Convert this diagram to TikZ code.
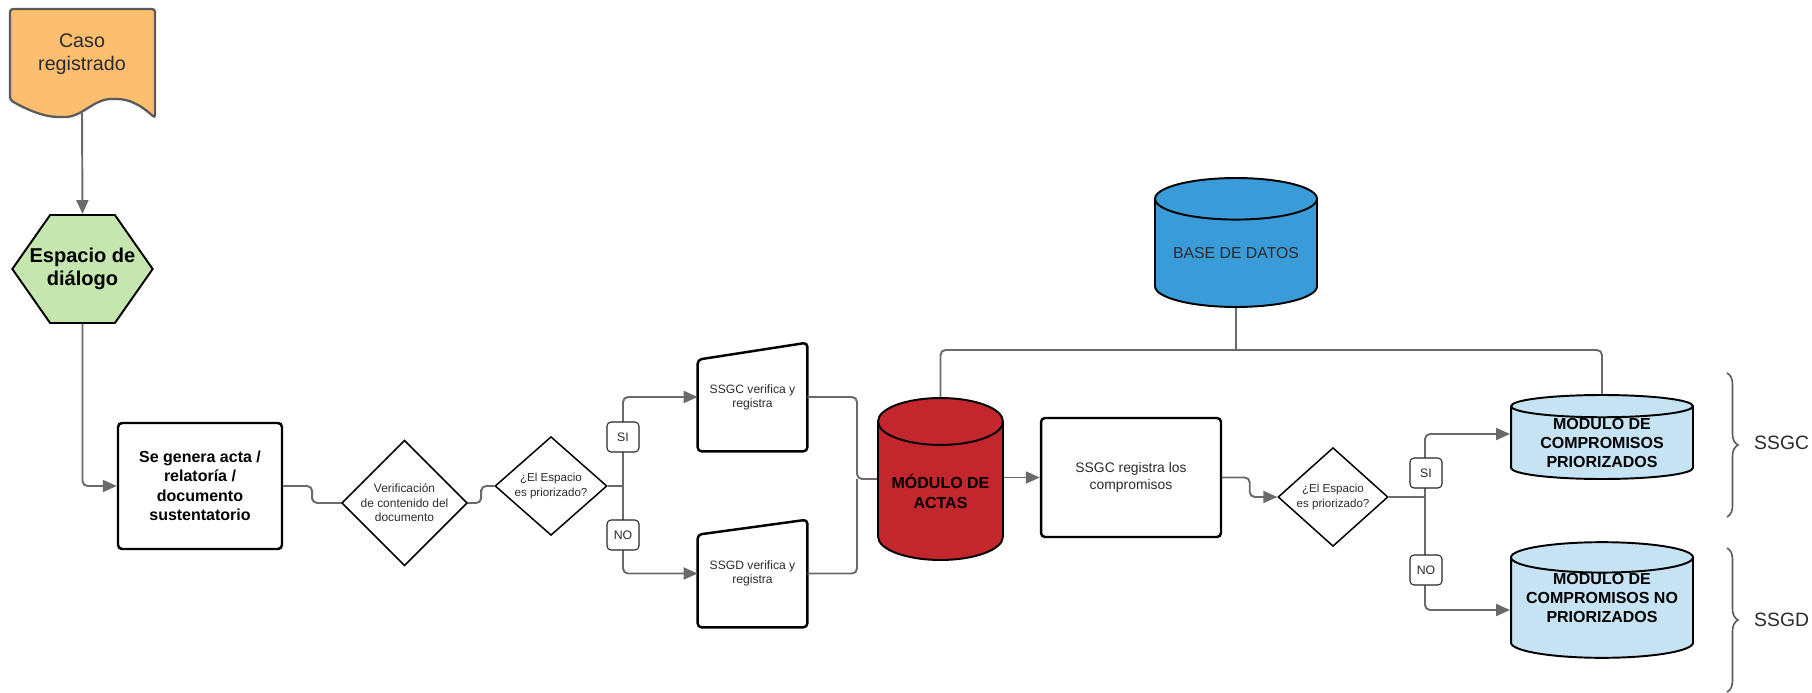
\documentclass[tikz,border=0pt]{standalone}
\usepackage{fontspec}
\setmainfont{Liberation Sans}
\usetikzlibrary{arrows.meta,calc,shapes.geometric,shapes.symbols,decorations.pathreplacing}

\definecolor{casoFill}{HTML}{FDBF6F}
\definecolor{docGray}{HTML}{5A5A5A}
\definecolor{dialogoFill}{HTML}{C5E6AF}
\definecolor{actasFill}{HTML}{C4262E}
\definecolor{baseFill}{HTML}{3A9BD9}
\definecolor{compFill}{HTML}{C6E3F4}
\definecolor{lineGray}{HTML}{6A6A6A}
\definecolor{textGray}{HTML}{2A2A2A}

\begin{document}
\begin{tikzpicture}[x=0.02cm,y=-0.02cm]
\tikzset{process/.style = {shape=rectangle,draw,line width=1.4pt,rounded corners=0.08cm,align=center,inner sep=2pt}}
\tikzset{decision/.style = {shape=diamond,draw,line width=0.85pt,align=center,inner sep=0pt,text=textGray}}
\tikzset{database/.style = {shape=cylinder,shape border rotate=90,anchor=shape center,draw,line width=1.1pt,align=center,inner sep=0pt}}
\tikzset{manual/.style = {shape=rectangle,align=center,inner sep=0pt,text=textGray,font=\fontsize{6.9}{8}\selectfont}}
\tikzset{flag/.style = {shape=rectangle,draw=black!85,line width=0.6pt,rounded corners=0.08cm,fill=white,minimum width=0.64cm,minimum height=0.6cm,inner sep=0pt,text=textGray,font=\fontsize{7}{8}\selectfont}}
\tikzset{conn/.style = {draw=lineGray,line width=1.1pt,rounded corners=0.1cm,> = {Triangle[length=0.28cm,width=0.24cm]}}}
\tikzset{stepped/.style = {to path={-| ($(\tikztostart)!0.5!(\tikztotarget)$) |- (\tikztotarget)}}}
\tikzset{brace/.style = {draw=docGray,line width=0.9pt,decorate,decoration={brace,amplitude=0.22cm}}}

\useasboundingbox (0,0) rectangle (1812,693);

% inicio
\draw[fill=casoFill,draw=docGray,line width=1.3pt,rounded corners=0.06cm]
  (10,100) -- (10,9) -- (155,9) -- (155,118)
  .. controls (142,106) and (130,99) .. (114,99)
  .. controls (94,99) and (82,117) .. (62,117)
  .. controls (42,117) and (24,108) .. (10,100) -- cycle;
\node[align=center,text=textGray,font=\fontsize{11.2}{13.1}\selectfont] (caso) at (82,54) {Caso\\registrado};
\coordinate (casoout) at (82,111);

\node[shape=signal,signal to=west and east,signal pointer angle=110,draw,line width=1.1pt,fill=dialogoFill,
  minimum height=2.16cm,inner xsep=-0.41cm,inner ysep=0pt,align=center,
  font=\fontsize{11.4}{13.1}\selectfont\bfseries] (dialogo) at (82.5,269) {Espacio de\\di\'alogo};

% proceso de actas
\node[process,minimum width=3.28cm,minimum height=2.52cm,font=\fontsize{9.1}{11.1}\selectfont\bfseries] (acta) at (200,486)
  {Se genera acta /\\relator\'ia /\\documento\\sustentatorio};
\node[decision,minimum width=2.22cm,minimum height=2.2cm,font=\fontsize{6.8}{8.25}\selectfont] (verif) at (404.5,503)
  {Verificaci\'on\\de contenido del\\documento};
\node[decision,minimum width=2.24cm,minimum height=1.74cm,font=\fontsize{6.6}{8.6}\selectfont] (prio1) at (551,486)
  {¿El Espacio\\es priorizado?};

\node[manual,minimum width=2.18cm,minimum height=2.16cm] (ssgcv) at (752.5,397) {SSGC verifica y\\registra};
\node[manual,minimum width=2.18cm,minimum height=2.14cm] (ssgdv) at (752.5,573.5) {SSGD verifica y\\registra};
\draw[line width=1.4pt,rounded corners=0.08cm] ([yshift=-0.34cm]ssgcv.north west) -- (ssgcv.north east) -- (ssgcv.south east) -- (ssgcv.south west) -- cycle;
\draw[line width=1.4pt,rounded corners=0.08cm] ([yshift=-0.3cm]ssgdv.north west) -- (ssgdv.north east) -- (ssgdv.south east) -- (ssgdv.south west) -- cycle;

\node[database,fill=actasFill,minimum width=2.5cm,minimum height=3.24cm,aspect=0.48,font=\fontsize{9.1}{11.4}\selectfont\bfseries] (actas) at (940.5,479)
  {M\'ODULO DE\\ACTAS};
\node[database,fill=baseFill,minimum width=3.24cm,minimum height=2.58cm,aspect=0.33,text=textGray,font=\fontsize{9}{11}\selectfont] (base) at (1236,242.5)
  {BASE DE DATOS};

\node[process,minimum width=3.6cm,minimum height=2.38cm,text=textGray,font=\fontsize{7.9}{9.7}\selectfont] (registra) at (1131,477.5)
  {SSGC registra los\\compromisos};
\node[decision,minimum width=2.2cm,minimum height=1.74cm,font=\fontsize{6.6}{8.6}\selectfont] (prio2) at (1333,497)
  {¿El Espacio\\es priorizado?};

\node[database,fill=compFill,minimum width=3.64cm,minimum height=1.68cm,aspect=0.18,font=\fontsize{9.1}{10.8}\selectfont\bfseries] (comp) at (1602,437)
  {MODULO DE\\COMPROMISOS\\PRIORIZADOS};
\node[database,fill=compFill,minimum width=3.64cm,minimum height=2.04cm,aspect=0.2,text depth=0.4cm,font=\fontsize{9.1}{10.8}\selectfont\bfseries] (compno) at (1602,600)
  {MODULO DE\\COMPROMISOS NO\\PRIORIZADOS};

% conectores
\draw[conn,->] (casoout) -- (dialogo.north);
\draw[conn,->] (dialogo.south) |- (acta.west);
\draw[conn] (acta.east) to[stepped] (verif.west);
\draw[conn] (verif.east) to[stepped] (prio1.west);

\coordinate (fork1) at (623,486);
\draw[conn] (prio1.east) -- (fork1);
\draw[conn,->] (fork1) |- (ssgcv.west);
\draw[conn,->] (fork1) |- (ssgdv.west);
\node[flag] (si1) at (623,437) {SI};
\node[flag] (no1) at (623,535) {NO};

\coordinate (merge) at (857,479);
\draw[conn] (ssgcv.east) -| (merge) -- (merge -| actas.west);
\draw[conn] (ssgdv.east) -| (merge);
\draw[conn,->] (registra.west -| actas.east) -- (registra.west);
\draw[conn,->] (registra.east) to[stepped] (prio2.west);

\coordinate (fork2) at (1425,497);
\draw[conn] (prio2.east) -- (fork2);
\draw[conn,->] (fork2) |- ($(comp.shape center -| comp.west)+(0,-3)$);
\draw[conn,->] (fork2) |- ($(compno.shape center -| compno.west)+(0,10)$);
\node[flag] (si2) at (1426,473) {SI};
\node[flag] (no2) at (1426,570) {NO};

\coordinate (hub) at (1236,350);
\draw[conn] (base.south) -- (hub);
\draw[conn] (actas.north) |- (hub) -| (comp.north);

% responsables
\draw[brace] (1727,373) -- (1727,517);
\draw[brace] (1727,548) -- (1727,692);
\node[anchor=west,text=textGray,font=\fontsize{11}{13}\selectfont] (ssgc) at (1748,443) {SSGC};
\node[anchor=west,text=textGray,font=\fontsize{11}{13}\selectfont] (ssgd) at (1748,620) {SSGD};

\end{tikzpicture}
\end{document}
